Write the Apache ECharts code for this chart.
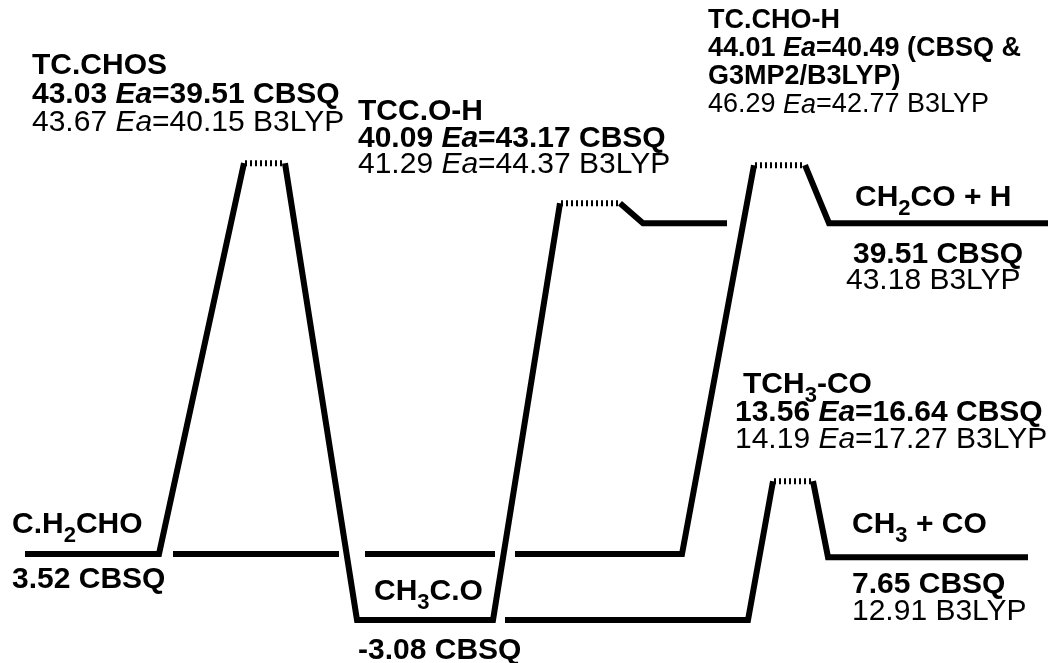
<!DOCTYPE html>
<html>
<head>
<meta charset="utf-8">
<script src="https://cdn.jsdelivr.net/npm/echarts@6/dist/echarts.min.js"></script>
<style>
  html, body { margin: 0; padding: 0; background: #fff; }
  #main { width: 1050px; height: 663px; }
</style>
</head>
<body>
<div id="main"></div>
<script>
// drawn levels of the schematic (kcal/mol-like scale)
var L_CH2CHO = 3.52;    // C.H2CHO
var L_CH3CO = -3.08;    // CH3C.O
var L_CH2CO_H = 36.6;   // CH2CO + H
var L_CH3_CO = 3.2;     // CH3 + CO
var TS_CHOS = 42.6;     // TC.CHOS
var TS_COH = 38.6;      // TCC.O-H
var TS_CHOH = 42.4;     // TC.CHO-H
var TS_CH3CO = 10.8;    // TCH3-CO

// solid paths: [reaction coordinate, level]
var solidPaths = [
  [[2.5, L_CH2CHO], [15.9, L_CH2CHO], [24.4, TS_CHOS]],
  [[28.5, TS_CHOS], [35.7, L_CH3CO], [49.3, L_CH3CO], [56.0, TS_COH]],
  [[62.0, TS_COH], [64.3, L_CH2CO_H], [72.7, L_CH2CO_H]],
  [[17.3, L_CH2CHO], [33.9, L_CH2CHO]],
  [[36.5, L_CH2CHO], [49.5, L_CH2CHO]],
  [[51.5, L_CH2CHO], [68.2, L_CH2CHO], [75.4, TS_CHOH]],
  [[80.5, TS_CHOH], [82.9, L_CH2CO_H], [104.8, L_CH2CO_H]],
  [[50.5, L_CH3CO], [74.8, L_CH3CO], [77.3, TS_CH3CO]],
  [[81.3, TS_CH3CO], [82.8, L_CH3_CO], [102.8, L_CH3_CO]]
];

// transition state tops (hatched)
var tsTops = [
  [[24.5, TS_CHOS], [28.4, TS_CHOS]],
  [[56.1, TS_COH], [61.9, TS_COH]],
  [[75.5, TS_CHOH], [80.4, TS_CHOH]],
  [[77.4, TS_CH3CO], [81.2, TS_CH3CO]]
];

// labels: | toggles italic, _ marks a subscript char
var labels = [
  { x: 32, y: 66, b: true, t: 'TC.CHOS' },
  { x: 32, y: 95, b: true, t: '43.03 |Ea|=39.51 CBSQ' },
  { x: 32, y: 123, b: false, t: '43.67 |Ea|=40.15 B3LYP' },
  { x: 358, y: 112, b: true, t: 'TCC.O-H' },
  { x: 358, y: 139, b: true, t: '40.09 |Ea|=43.17 CBSQ' },
  { x: 358, y: 165, b: false, t: '41.29 |Ea|=44.37 B3LYP' },
  { x: 708, y: 21, b: true, t: 'TC.CHO-H', size: 27 },
  { x: 708, y: 49, b: true, t: '44.01 |Ea|=40.49 (CBSQ &', size: 27 },
  { x: 708, y: 77, b: true, t: 'G3MP2/B3LYP)', size: 27 },
  { x: 708, y: 105, b: false, t: '46.29 |Ea|=42.77 B3LYP', size: 27 },
  { x: 855, y: 198, b: true, t: 'CH_2CO + H' },
  { x: 853, y: 255, b: true, t: '39.51 CBSQ' },
  { x: 846, y: 281, b: false, t: '43.18 B3LYP' },
  { x: 743, y: 385, b: true, t: 'TCH_3-CO' },
  { x: 735, y: 413, b: true, t: '13.56 |Ea|=16.64 CBSQ' },
  { x: 735, y: 440, b: false, t: '14.19 |Ea|=17.27 B3LYP' },
  { x: 852, y: 525, b: true, t: 'CH_3 + CO' },
  { x: 852, y: 585, b: true, t: '7.65 CBSQ' },
  { x: 852, y: 612, b: false, t: '12.91 B3LYP' },
  { x: 12, y: 525, b: true, t: 'C.H_2CHO' },
  { x: 12, y: 580, b: true, t: '3.52 CBSQ' },
  { x: 374, y: 592, b: true, t: 'CH_3C.O' },
  { x: 358, y: 651, b: true, t: '-3.08 CBSQ' }
];

var FONT = '"Liberation Sans", Arial, sans-serif';
var ctx = document.createElement('canvas').getContext('2d');

function parse(t) {
  var parts = [], cur = '', it = false, i = 0;
  while (i < t.length) {
    var c = t[i];
    if (c === '|') {
      if (cur) parts.push({ s: cur, i: it });
      cur = ''; it = !it; i++;
    } else if (c === '_') {
      if (cur) parts.push({ s: cur, i: it });
      cur = '';
      parts.push({ s: t[i + 1], i: it, sub: true });
      i += 2;
    } else {
      cur += c; i++;
    }
  }
  if (cur) parts.push({ s: cur, i: it });
  return parts;
}

function buildLabel(lbl) {
  var size = lbl.size || 30;
  var x = lbl.x;
  var els = [];
  parse(lbl.t).forEach(function (p) {
    var fs = p.sub ? Math.round(size * 0.72) : size;
    var weight = lbl.b ? 'bold' : 'normal';
    var fstyle = p.i ? 'italic' : 'normal';
    ctx.font = fstyle + ' ' + weight + ' ' + fs + 'px ' + FONT;
    els.push({
      type: 'text',
      x: x,
      y: lbl.y + (p.sub ? size * 0.36 : 0),
      silent: true,
      style: {
        text: p.s,
        fontSize: fs,
        fontWeight: weight,
        fontStyle: fstyle,
        fontFamily: FONT,
        fill: '#000',
        textAlign: 'left',
        verticalAlign: 'middle',
        textVerticalAlign: 'middle'
      }
    });
    x += ctx.measureText(p.s).width;
  });
  return els;
}

var graphics = [];
labels.forEach(function (l) { graphics = graphics.concat(buildLabel(l)); });

var series = [];
solidPaths.forEach(function (p) {
  series.push({
    type: 'line', data: p, symbol: 'none', silent: true,
    lineStyle: { color: '#000', width: 6, cap: 'butt', join: 'miter' }
  });
});
tsTops.forEach(function (p) {
  series.push({
    type: 'line', data: p, symbol: 'none', silent: true,
    lineStyle: { color: '#000', width: 6, type: [2, 3], cap: 'butt' }
  });
});

var myChart = echarts.init(document.getElementById('main'));
myChart.setOption({
  animation: false,
  backgroundColor: '#fff',
  grid: { left: 0, right: 0, top: 0, bottom: 0 },
  xAxis: { type: 'value', min: 0, max: 105, show: false },
  yAxis: { type: 'value', min: -7.38, max: 58.92, show: false },
  series: series,
  graphic: graphics
});
</script>
</body>
</html>
